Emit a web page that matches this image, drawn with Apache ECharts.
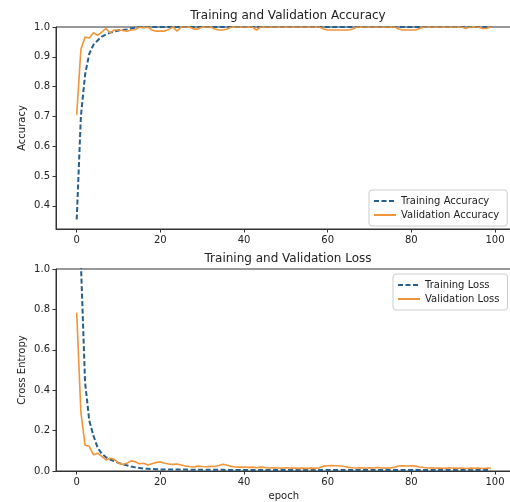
<!DOCTYPE html>
<html>
<head>
<meta charset="utf-8">
<script src="https://cdn.jsdelivr.net/npm/echarts@6/dist/echarts.min.js"></script>
<style>
html,body{margin:0;padding:0;background:#fff;}
#c{width:510px;height:502px;}
</style>
</head>
<body>
<div id="c"></div>
<script>
// ---- data ----
var trainAcc = [0.354,0.70,0.84,0.91,0.94,0.955,0.968,0.975,0.981,0.985,0.988,0.99,0.992,0.995,0.998,
  1,1,1,1,1,1,1,1,1,1,1,1,1,1,1,1,1,1,1,1,1,1,1,1,1,1,1,1,1,1,1,1,1,1,1,
  1,1,1,1,1,1,1,1,1,1,1,1,1,1,1,1,1,1,1,1,1,1,1,1,1,1,1,1,1,1,1,1,1,1,1,
  1,1,1,1,1,1,1,1,1,1,1,1,1,1,1];
var valAcc = [0.705,0.925,0.966,0.963,0.981,0.972,0.983,0.995,0.98,0.99,0.99,0.988,0.986,0.99,0.991,
  1,0.997,1,0.99,0.986,0.986,0.986,0.992,1,0.986,1,1,1,0.993,0.993,
  1,1,1,0.993,0.99,0.99,0.993,1,1,1,1,1,1,0.99,1,1,1,1,1,1,
  1,1,1,1,1,1,1,1,1,0.993,0.99,0.99,0.99,0.99,0.99,0.99,0.993,1,1,1,
  1,1,1,1,1,1,1,0.993,0.99,0.99,0.99,0.99,0.995,1,1,1,1,1,1,1,
  1,1,1,0.995,1,1,1,0.995,0.995,1];
var trainLoss = [2.4,1.03,0.44,0.25,0.175,0.115,0.085,0.068,0.057,0.048,0.04,0.033,0.028,0.022,0.018,
  0.015,0.012,0.011,0.01,0.009,0.008,0.008,0.008,0.007,0.007,0.007,0.007,0.006,0.006,0.006,
  0.006,0.006,0.006,0.006,0.006,0.006,0.005,0.005,0.005,0.005,0.005,0.005,0.005,0.005,0.005,
  0.005,0.005,0.005,0.005,0.005,0.005,0.005,0.005,0.005,0.005,0.005,0.005,0.005,0.005,0.005,
  0.005,0.005,0.005,0.005,0.005,0.005,0.005,0.005,0.005,0.005,0.005,0.005,0.005,0.005,0.005,
  0.005,0.005,0.005,0.005,0.005,0.005,0.005,0.005,0.005,0.005,0.005,0.005,0.005,0.005,0.005,
  0.005,0.005,0.005,0.005,0.005,0.005,0.005,0.005,0.005,0.005];
var valLoss = [0.784,0.29,0.128,0.122,0.08,0.088,0.072,0.055,0.063,0.058,0.04,0.032,0.038,0.05,0.046,
  0.036,0.038,0.03,0.036,0.042,0.045,0.038,0.035,0.033,0.035,0.03,0.025,0.022,0.02,0.024,
  0.022,0.021,0.023,0.022,0.027,0.033,0.028,0.023,0.02,0.019,0.02,0.018,0.019,0.016,0.019,
  0.017,0.015,0.016,0.015,0.014,0.016,0.015,0.014,0.013,0.014,0.013,0.014,0.013,0.016,0.024,
  0.026,0.027,0.026,0.025,0.022,0.018,0.016,0.015,0.016,0.014,0.016,0.015,0.017,0.015,0.014,
  0.015,0.018,0.025,0.026,0.025,0.026,0.024,0.02,0.017,0.015,0.016,0.014,0.015,0.013,0.016,
  0.014,0.013,0.015,0.012,0.014,0.013,0.015,0.012,0.014,0.015];
var xTicks = [0,20,40,60,80,100];
var accTicks = [0.4,0.5,0.6,0.7,0.8,0.9,1.0];
var lossTicks = [0.0,0.2,0.4,0.6,0.8,1.0];

function pairs(arr){ return arr.map(function(v,i){ return [i,v]; }); }

var FONT = 'DejaVu Sans';
var AX = '#333';
var BLUE = '#245f8f';
var ORANGE = '#f0953a';

function xAx(idx, name){
  return {
    type:'value', gridIndex:idx, min:-4.95, max:103.95,
    name:name, nameLocation:'middle', nameGap:20, nameMoveOverlap:false,
    nameTextStyle:{fontFamily:FONT,fontSize:10,color:'#222'},
    axisLine:{show:true,onZero:false,lineStyle:{color:AX,width:1}},
    axisTick:{show:true,length:3.5,customValues:xTicks,lineStyle:{color:AX}},
    axisLabel:{customValues:xTicks,margin:6,fontFamily:FONT,fontSize:10,color:'#222',
      formatter:function(v){return String(Math.round(v));}},
    splitLine:{show:false}
  };
}
function yAx(idx, name, min, max, ticks){
  return {
    type:'value', gridIndex:idx, min:min, max:max,
    name:name, nameLocation:'middle', nameGap:29, nameMoveOverlap:false,
    nameTextStyle:{fontFamily:FONT,fontSize:10,color:'#222'},
    axisLine:{show:true,onZero:false,lineStyle:{color:AX,width:1}},
    axisTick:{show:true,length:3.5,customValues:ticks,lineStyle:{color:AX}},
    axisLabel:{customValues:ticks,margin:6,fontFamily:FONT,fontSize:10,color:'#222',
      formatter:function(v){return v.toFixed(1);}},
    splitLine:{show:false}
  };
}

var legendCommon = {
  orient:'vertical', itemWidth:22, itemHeight:10, itemGap:4, padding:[6,8,6,4],
  backgroundColor:'rgba(255,255,255,0.8)', borderColor:'#ccc', borderWidth:1, borderRadius:3,
  itemStyle:{opacity:0},
  textStyle:{fontFamily:FONT,fontSize:10,color:'#222'}
};

var chart = echarts.init(document.getElementById('c'), null, {renderer:'canvas'});
chart.setOption({
  backgroundColor:'#fff',
  animation:false,
  title:[
    {text:'Training and Validation Accuracy', left:283, top:5, textAlign:'center',
     textStyle:{fontFamily:FONT,fontSize:12,fontWeight:'normal',color:'#222'}},
    {text:'Training and Validation Loss', left:283, top:248, textAlign:'center',
     textStyle:{fontFamily:FONT,fontSize:12,fontWeight:'normal',color:'#222'}}
  ],
  grid:[
    {left:56, top:27, width:455.5, height:202, show:true, borderColor:AX, borderWidth:1,
     backgroundColor:'transparent', outerBoundsMode:'none', containLabel:false},
    {left:56, top:269, width:455.5, height:202, show:true, borderColor:AX, borderWidth:1,
     backgroundColor:'transparent', outerBoundsMode:'none', containLabel:false}
  ],
  xAxis:[ xAx(0,''), xAx(1,'epoch') ],
  yAxis:[ yAx(0,'Accuracy',0.322,1.0,accTicks), yAx(1,'Cross Entropy',0,1.0,lossTicks) ],
  legend:[
    Object.assign({data:['Training Accuracy','Validation Accuracy'], left:369, top:190}, legendCommon),
    Object.assign({data:['Training Loss','Validation Loss'], left:393, top:274}, legendCommon)
  ],
  series:[
    {name:'Training Accuracy', type:'line', xAxisIndex:0, yAxisIndex:0, data:pairs(trainAcc),
     symbol:'none', color:BLUE, lineStyle:{color:BLUE,width:2,type:[5,2.5]}},
    {name:'Validation Accuracy', type:'line', xAxisIndex:0, yAxisIndex:0, data:pairs(valAcc),
     symbol:'none', color:ORANGE, lineStyle:{color:ORANGE,width:1.6}},
    {name:'Training Loss', type:'line', xAxisIndex:1, yAxisIndex:1, data:pairs(trainLoss),
     symbol:'none', color:BLUE, lineStyle:{color:BLUE,width:2,type:[5,2.5]}},
    {name:'Validation Loss', type:'line', xAxisIndex:1, yAxisIndex:1, data:pairs(valLoss),
     symbol:'none', color:ORANGE, lineStyle:{color:ORANGE,width:1.6}}
  ]
});
</script>
</body>
</html>
